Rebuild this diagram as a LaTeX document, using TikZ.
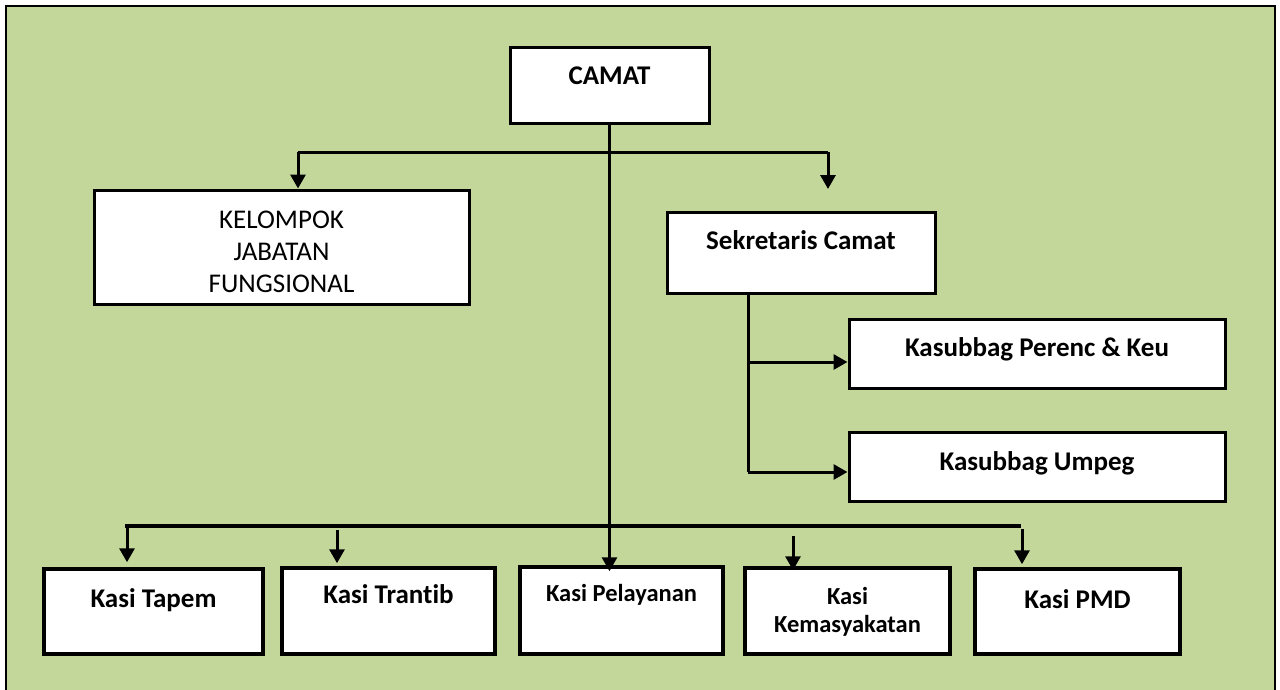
\documentclass[tikz,border=0pt]{standalone}
\usepackage{fontspec}
\setmainfont{Carlito}[Ligatures=NoCommon]
\usetikzlibrary{arrows.meta}
\definecolor{bggreen}{HTML}{C4D79B}
\begin{document}
\begin{tikzpicture}[x=1pt,y=-1pt,
  box/.style={draw=black, line width=3pt, fill=white, inner sep=0pt, font=\bfseries\fontsize{27}{32}\selectfont},
  con/.style={line width=3pt},
  arr/.style={line width=3pt, -{Triangle[length=14pt,width=15pt]}},
]
\useasboundingbox (0,0) rectangle (1280,689);
\fill[white] (0,0) rectangle (1280,689);
\draw[fill=bggreen, line width=2pt] (6,6) rectangle (1275,692);

\node[box, minimum width=199pt, text height=37.4pt, text depth=38.6pt] (camat) at (609.5,85) {CAMAT};
\node[box, font=\fontsize{27}{32}\selectfont, text width=375pt, align=center, text height=38.4pt, text depth=75.6pt] (kjf) at (281.5,247) {KELOMPOK\\JABATAN\\FUNGSIONAL};
\node[box, minimum width=268pt, text height=37.4pt, text depth=43.6pt] (sek) at (801,252.5) {Sekretaris Camat};
\node[box, minimum width=376pt, text height=37.4pt, text depth=31.6pt] (perenc) at (1037,353.5) {Kasubbag Perenc \& Keu};
\node[box, minimum width=376pt, text height=38.4pt, text depth=30.6pt] (umpeg) at (1037,466.5) {Kasubbag Umpeg};
\node[box, line width=3.5pt, minimum width=219pt, text height=38.4pt, text depth=46.6pt] (tapem) at (153.5,611.5) {Kasi Tapem};
\node[box, line width=3.5pt, minimum width=213pt, text height=35.4pt, text depth=50.6pt] (trantib) at (388.5,611) {Kasi Trantib};
\node[box, line width=3.5pt, font=\bfseries\fontsize{24.5}{28}\selectfont, minimum width=203pt, text height=34.7pt, text depth=52.3pt] (pel) at (621.5,610.5) {Kasi Pelayanan};
\node[box, line width=3.5pt, font=\bfseries\fontsize{24.5}{28}\selectfont, text width=205pt, align=center, text height=36.7pt, text depth=49.3pt] (kemas) at (847.5,611) {Kasi\\Kemasyakatan};
\node[box, line width=3.5pt, minimum width=205pt, text height=39.4pt, text depth=45.6pt] (pmd) at (1077.5,611.5) {Kasi PMD};

% CAMAT trunk
\draw[arr, shorten >=-6pt] (camat.south) -- (camat.south |- pel.north);

% top bus
\coordinate (tl) at (298,152);
\coordinate (tr) at (828,152);
\coordinate (sekin) at (828,189);
\draw[con] (tl) -- (tr);
\draw[arr] (tl) -- (tl |- kjf.north);
\draw[arr] (tr) -- (sekin);

% sekretaris branches
\coordinate (s1) at (748,362);
\coordinate (s2) at (748,472);
\draw[con] (sek.south -| s1) -- (s2);
\draw[arr] (s1) -- (s1 -| perenc.west);
\draw[arr] (s2) -- (s2 -| umpeg.west);

% bottom bus
\coordinate (b1) at (125,526);
\coordinate (b2) at (1021,526);
\draw[line width=4pt] (b1) -- (b2);
\coordinate (ta) at (127,526);
\coordinate (tb) at (337,530);
\coordinate (tk) at (793,536);
\coordinate (tp) at (1022,529);
\draw[arr, shorten >=5pt] (ta) -- (ta |- tapem.north);
\draw[arr, shorten >=3pt] (tb) -- (tb |- trantib.north);
\draw[arr, shorten >=-4pt] (tk) -- (tk |- kemas.north);
\draw[arr, shorten >=3pt] (tp) -- (tp |- pmd.north);
\end{tikzpicture}
\end{document}
